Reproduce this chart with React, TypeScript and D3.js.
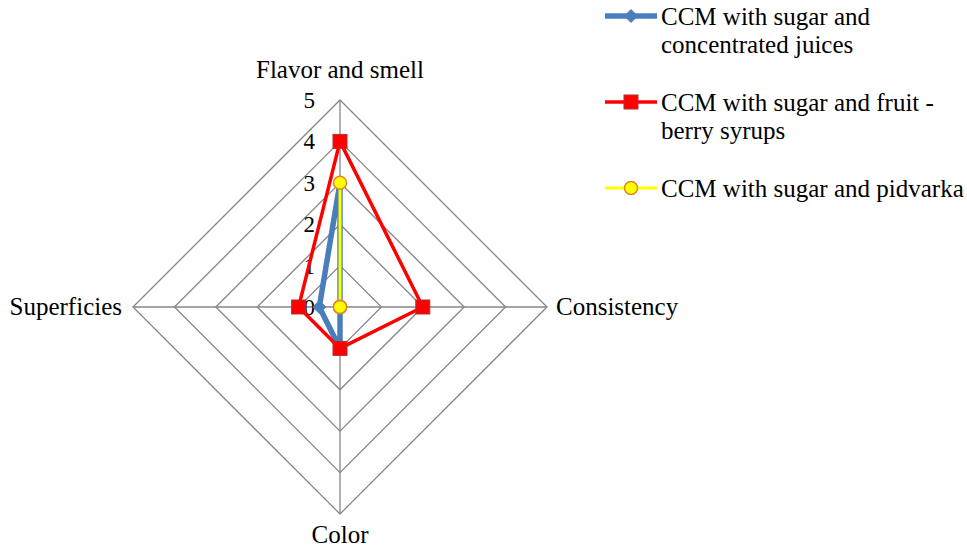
import React from "react";
import * as d3 from "d3";

const axes = ["Flavor and smell", "Consistency", "Color", "Superficies"];
const ticks = [0, 1, 2, 3, 4, 5];
const seriesNames = [
  ["CCM with sugar and", "concentrated juices"],
  ["CCM with sugar and fruit -", "berry syrups"],
  ["CCM with sugar and pidvarka"],
];
const juices = [3, 0, 1, 0.5];
const syrups = [4, 2, 1, 1];
const pidvarka = [3, 0, 0, 0];

const W = 967;
const H = 550;
const cx = 340;
const cy = 307;
const R = 207;
const FONT = "Liberation Serif, Times New Roman, serif";

const r = d3.scaleLinear().domain([0, 5]).range([0, R]);
const ang = (i: number) => (i / axes.length) * 2 * Math.PI;

function pt(i: number, v: number): [number, number] {
  const a = ang(i);
  return [cx + r(v) * Math.sin(a), cy - r(v) * Math.cos(a)];
}

const line = d3.line<[number, number]>().curve(d3.curveLinearClosed);

const txt: React.CSSProperties = { fontFamily: FONT };

export default function App() {
  const series = [
    { values: juices, color: "#4a7ebb", width: 5.5, marker: "diamond" },
    { values: syrups, color: "#ff0000", width: 3.5, marker: "square" },
    { values: pidvarka, color: "#ffff00", width: 3, marker: "circle" },
  ];

  const marker = (kind: string, x: number, y: number, key: string) => {
    if (kind === "diamond")
      return (
        <path
          key={key}
          d={`M${x},${y - 6.5}L${x + 6.5},${y}L${x},${y + 6.5}L${x - 6.5},${y}Z`}
          fill="#4a7ebb"
          stroke="#4a7ebb"
          strokeWidth={1}
        />
      );
    if (kind === "square")
      return (
        <rect
          key={key}
          x={x - 7}
          y={y - 7}
          width={14}
          height={14}
          fill="#ff0000"
          stroke="#b03030"
          strokeWidth={1}
        />
      );
    return (
      <circle
        key={key}
        cx={x}
        cy={y}
        r={6.5}
        fill="#ffff00"
        stroke="#e0882a"
        strokeWidth={1.5}
      />
    );
  };

  const legendY = [16, 102, 188];

  return (
    <svg
      width={W}
      height={H}
      style={{ position: "absolute", left: 0, top: 0, background: "#fff", fontFamily: FONT }}
    >
      {ticks.slice(1).map((t) => (
        <path
          key={t}
          d={line(axes.map((_, i) => pt(i, t))) || ""}
          fill="none"
          stroke="#868686"
          strokeWidth={1.3}
        />
      ))}
      {axes.map((a, i) => {
        const [x, y] = pt(i, 5);
        return (
          <line
            key={a}
            x1={cx}
            y1={cy}
            x2={x}
            y2={y}
            stroke="#868686"
            strokeWidth={1.3}
          />
        );
      })}
      {ticks.map((t) => (
        <text
          key={t}
          x={cx - 25}
          y={cy - r(t)}
          dy="0.35em"
          textAnchor="end"
          fontSize={23}
          fill="#000"
          style={txt}
        >
          {t}
        </text>
      ))}
      <text x={cx} y={cy - R - 22} textAnchor="middle" fontSize={25} style={txt}>
        {axes[0]}
      </text>
      <text x={cx + R + 9} y={cy + 8} textAnchor="start" fontSize={25} style={txt}>
        {axes[1]}
      </text>
      <text x={cx} y={cy + R + 29} textAnchor="middle" fontSize={25} style={txt}>
        {axes[2]}
      </text>
      <text x={cx - R - 11} y={cy + 8} textAnchor="end" fontSize={25} style={txt}>
        {axes[3]}
      </text>
      {series.map((s, si) => (
        <g key={si}>
          <path
            d={line(s.values.map((v, i) => pt(i, v))) || ""}
            fill="none"
            stroke={s.color}
            strokeWidth={s.width}
            strokeLinejoin="round"
          />
          {s.values.map((v, i) => {
            const [x, y] = pt(i, v);
            return marker(s.marker, x, y, `${si}-${i}`);
          })}
        </g>
      ))}
      {series.map((s, si) => (
        <g key={"l" + si}>
          <line
            x1={605}
            x2={657}
            y1={legendY[si]}
            y2={legendY[si]}
            stroke={s.color}
            strokeWidth={s.width}
          />
          {marker(s.marker, 631, legendY[si], "lm" + si)}
          {seriesNames[si].map((ln, li) => (
            <text
              key={li}
              x={661}
              y={legendY[si] + 9 + li * 28}
              fontSize={25}
              fill="#000"
              style={txt}
            >
              {ln}
            </text>
          ))}
        </g>
      ))}
    </svg>
  );
}
